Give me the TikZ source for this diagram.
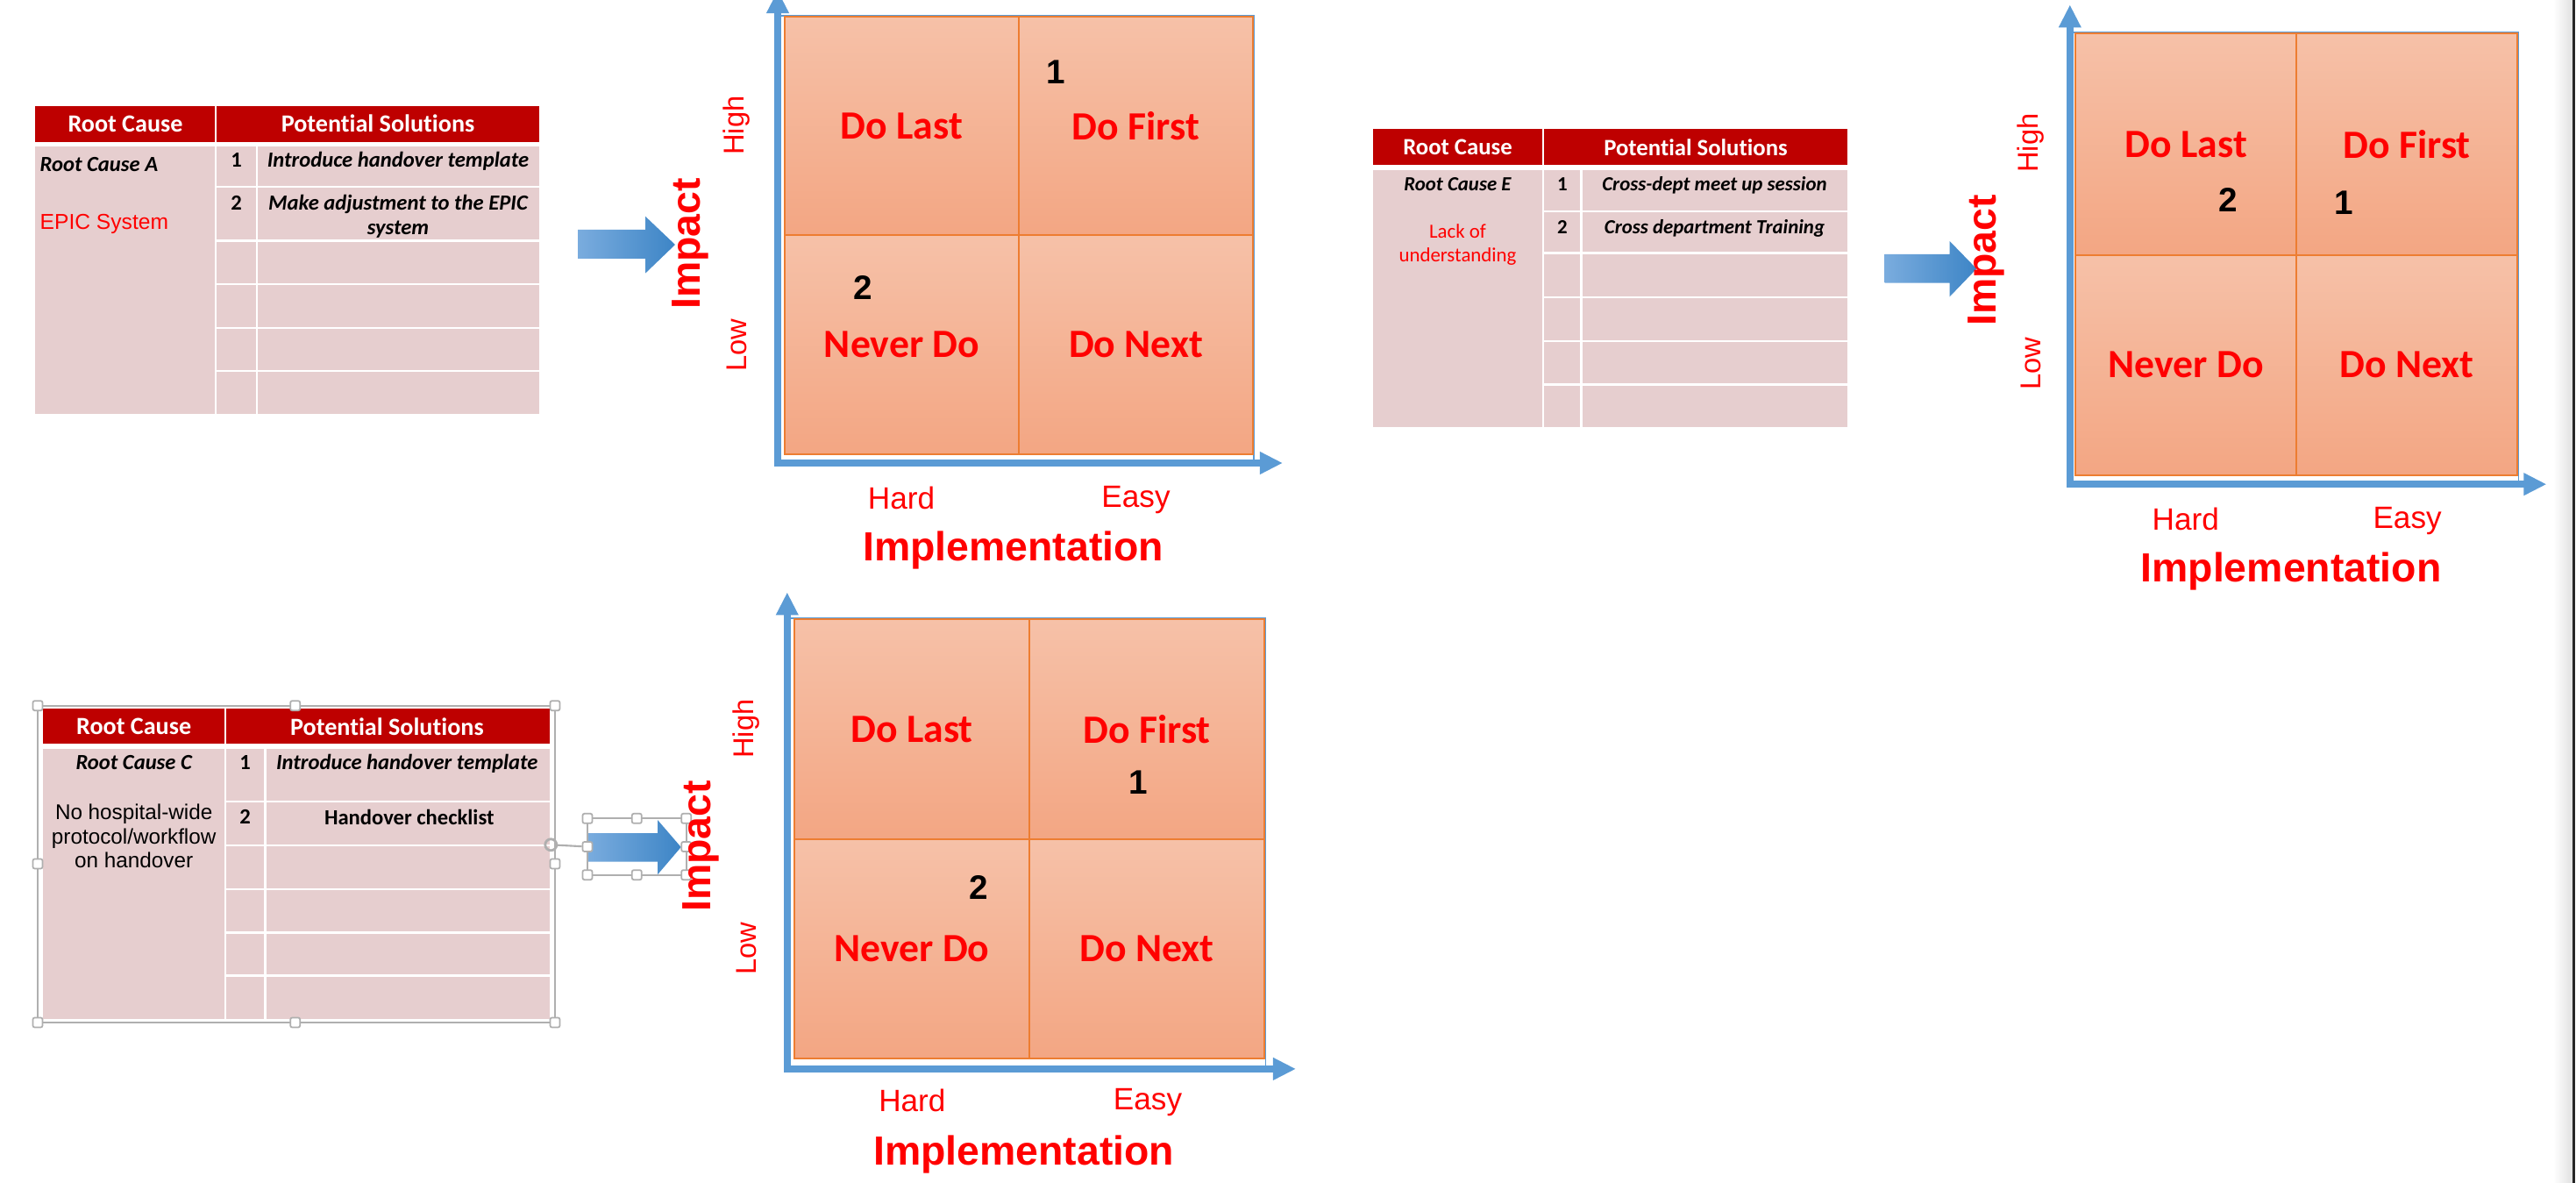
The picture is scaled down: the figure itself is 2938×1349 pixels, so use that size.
\documentclass[tikz,border=0pt]{standalone}
\usepackage{fontspec}
\setmainfont{Carlito}[Ligatures=NoCommon]
\newfontfamily\arialf{Liberation Sans}
\usetikzlibrary{arrows.meta}
\definecolor{hdred}{RGB}{190,0,0}
\definecolor{rowpink}{RGB}{230,206,207}
\definecolor{qtop}{RGB}{246,193,168}
\definecolor{qbot}{RGB}{243,166,131}
\definecolor{qline}{RGB}{237,125,49}
\definecolor{axblue}{RGB}{91,155,213}
\definecolor{arleft}{RGB}{122,172,222}
\definecolor{arright}{RGB}{61,133,198}
\definecolor{selgray}{RGB}{175,175,175}
\begin{document}
\begin{tikzpicture}[x=0.01cm,y=-0.01cm,
  sep/.style={draw=white,line width=0.7pt},
  hdtxt/.style={text=white,inner sep=0,font=\bfseries\fontsize{#1}{#1}\selectfont},
  cause/.style={inner sep=0,font=\bfseries\itshape\fontsize{#1}{#1}\selectfont},
  sol/.style={inner sep=0,align=center,font=\bfseries\itshape\fontsize{#1}{#1}\selectfont},
  num/.style={inner sep=0,font=\bfseries\fontsize{#1}{#1}\selectfont},
  quad/.style={draw=qline,line width=0.55pt,top color=qtop,bottom color=qbot,inner sep=0,
    text=red,font=\bfseries\fontsize{13}{15}\selectfont},
  frm/.style={draw=axblue,line width=0.5pt},
  axis/.style={draw=axblue,line width=2.2pt,line join=miter,
    {Triangle[width=0.24cm,length=0.26cm]}-{Triangle[width=0.24cm,length=0.26cm]}},
  lowhigh/.style={inner sep=0,text=red,font=\arialf\fontsize{9.3}{11}\selectfont},
  hardeasy/.style={inner sep=0,text=red,font=\arialf\fontsize{10}{12}\selectfont},
  bigred/.style={inner sep=0,text=red,font=\arialf\bfseries\fontsize{13.2}{15}\selectfont},
  qnum/.style={inner sep=0,font=\arialf\bfseries\fontsize{11}{13}\selectfont},
  blockarrow/.style={left color=arleft,right color=arright},
  handle/.style={draw=selgray,fill=white,line width=0.5pt,minimum size=0.11cm,inner sep=0,rounded corners=0.6pt}]
\useasboundingbox (0,0) rectangle (2938,1349);
\fill[white] (0,0) rectangle (2938,1349);
\shade[left color=white,right color=black!12] (2912,0) rectangle (2934,1349);
\fill[black!85] (2934,0) rectangle (2937.3,1349);

% table A
\fill[hdred] (39.8,120.7) rectangle (614.8,161.7);
\draw[sep] (246.2,120.7) -- (246.2,161.7);
\fill[rowpink] (39.8,166.7) rectangle (614.8,471.7);
\draw[sep] (246.2,166.7) -- (246.2,471.7) (292.8,166.7) -- (292.8,471.7);
\draw[sep] (246.2,213.2) -- (614.8,213.2) (246.2,274.5) -- (614.8,274.5) (246.2,324) -- (614.8,324)
  (246.2,373.8) -- (614.8,373.8) (246.2,423) -- (614.8,423);
\node[hdtxt=8] (rcA) at (143,141.2) {Root Cause};
\node[hdtxt=8] (psA) at (431,141.2) {Potential Solutions};
\node[cause=7,anchor=west] (caA) at (45,187.3) {Root Cause A};
\node[inner sep=0,anchor=west,text=red,font=\arialf\fontsize{7}{8}\selectfont] (epA) at (45,255.7) {EPIC System};
\node[num=7] (n1A) at (269.6,182.7) {1};
\node[sol=7] (s1A) at (454,184) {Introduce handover template};
\node[num=7] (n2A) at (269.6,231.7) {2};
\node[sol=7,align=center,font=\bfseries\itshape\fontsize{7}{8.1}\selectfont] (s2A) at (454,247) {Make adjustment to the EPIC\\system};
\shade[blockarrow] (659,262) -- (736,262) -- (736,246.7) -- (770,279) -- (736,311.7) -- (736,295) -- (659,295) -- cycle;

% matrix A
\draw[frm] (887,18) -- (1430,18) -- (1430,528);
\node[quad,minimum width=2.67cm,minimum height=2.495cm] (dlA) at (1028.5,143.75) {Do Last};
\node[quad,minimum width=2.67cm,minimum height=2.495cm] (dfA) at (1295.5,143.75) {Do First};
\node[quad,minimum width=2.67cm,minimum height=2.492cm] (ndA) at (1028.5,393.1) {Never Do};
\node[quad,minimum width=2.67cm,minimum height=2.492cm] (dnA) at (1295.5,393.1) {Do Next};
\coordinate (oA) at (887,528);
\coordinate (yA) at (887,-11);
\coordinate (xA) at (1463,528);
\draw[axis] (yA) -- (oA) -- (xA);
\node[lowhigh,rotate=90] (hiA) at (840,143) {High};
\node[lowhigh,rotate=90] (loA) at (840,393.5) {Low};
\node[bigred,rotate=90] (imA) at (787,277.8) {Impact};
\node[hardeasy] (haA) at (1028,568) {Hard};
\node[hardeasy] (eaA) at (1295.5,570) {Easy};
\node[bigred] (ipA) at (1155.6,627) {Implementation};
\node[qnum] (q1A) at (1204,82) {1};
\node[qnum] (q2A) at (984.5,328) {2};

% table E
\fill[hdred] (1565.5,147.3) rectangle (2107,188.3);
\draw[sep] (1760.2,147.3) -- (1760.2,188.3);
\fill[rowpink] (1565.5,194) rectangle (2107,486.7);
\draw[sep] (1760.2,194) -- (1760.2,486.7) (1803.5,194) -- (1803.5,486.7);
\draw[sep] (1760.2,240.8) -- (2107,240.8) (1760.2,288.5) -- (2107,288.5) (1760.2,338.8) -- (2107,338.8)
  (1760.2,389.2) -- (2107,389.2) (1760.2,438.3) -- (2107,438.3);
\node[hdtxt=7.6] (rcE) at (1662.5,167.8) {Root Cause};
\node[hdtxt=7.6] (psE) at (1934,167.8) {Potential Solutions};
\node[cause=6.5] (caE) at (1662.5,210) {Root Cause E};
\node[inner sep=0,align=center,text=red,font=\fontsize{6.5}{7.6}\selectfont] (lkE) at (1662.5,279) {Lack of\\understanding};
\node[num=6.5] (n1E) at (1782,210) {1};
\node[sol=6.5] (s1E) at (1955.5,211) {Cross-dept meet up session};
\node[num=6.5] (n2E) at (1782,259.3) {2};
\node[sol=6.5] (s2E) at (1955.5,260.3) {Cross department Training};
\shade[blockarrow] (2149.7,290) -- (2223.7,290) -- (2223.7,275) -- (2254.3,306.5) -- (2223.7,338.3) -- (2223.7,322.7) -- (2149.7,322.7) -- cycle;

% matrix E
\draw[frm] (2360.8,37) -- (2872.5,37) -- (2872.5,552);
\node[quad,minimum width=2.52cm,minimum height=2.53cm] (dlE) at (2493.2,164.5) {Do Last};
\node[quad,minimum width=2.52cm,minimum height=2.53cm] (dfE) at (2745.2,164.5) {Do First};
\node[quad,minimum width=2.52cm,minimum height=2.505cm] (ndE) at (2493.2,416.25) {Never Do};
\node[quad,minimum width=2.52cm,minimum height=2.505cm] (dnE) at (2745.2,416.25) {Do Next};
\coordinate (oE) at (2360.8,552.2);
\coordinate (yE) at (2360.8,5.4);
\coordinate (xE) at (2904.4,552.2);
\draw[axis] (yE) -- (oE) -- (xE);
\node[lowhigh,rotate=90] (hiE) at (2316.5,163) {High};
\node[lowhigh,rotate=90] (loE) at (2316.5,415) {Low};
\node[bigred,rotate=90] (imE) at (2265.7,297) {Impact};
\node[hardeasy] (haE) at (2492.8,591.5) {Hard};
\node[hardeasy] (eaE) at (2745.6,593.8) {Easy};
\node[bigred] (ipE) at (2613,651.8) {Implementation};
\node[qnum] (q2E) at (2541,227.7) {2};
\node[qnum] (q1E) at (2673,231) {1};

% table C
\fill[hdred] (48.5,808.3) rectangle (626.5,848.3);
\draw[sep] (256.9,808.3) -- (256.9,848.3);
\fill[rowpink] (48.5,854) rectangle (626.5,1161.7);
\draw[sep] (256.9,854) -- (256.9,1161.7) (302.3,854) -- (302.3,1161.7);
\draw[sep] (256.9,914) -- (626.5,914) (256.9,963.8) -- (626.5,963.8) (256.9,1013.8) -- (626.5,1013.8)
  (256.9,1063.5) -- (626.5,1063.5) (256.9,1112.5) -- (626.5,1112.5);
\node[hdtxt=8] (rcC) at (152.7,828.3) {Root Cause};
\node[hdtxt=8] (psC) at (441.4,828.3) {Potential Solutions};
\node[cause=7] (caC) at (152.7,869.3) {Root Cause C};
\node[inner sep=0,align=center,font=\arialf\fontsize{6.9}{7.8}\selectfont] (nhC) at (152.7,953.5) {No hospital-wide\\protocol/workflow\\on handover};
\node[num=7] (n1C) at (279.6,869.3) {1};
\node[sol=7] (s1C) at (464.3,870.5) {Introduce handover template};
\node[num=7] (n2C) at (279.6,931.7) {2};
\node[num=7] (s2C) at (466.8,931.7) {Handover checklist};
\draw[selgray,line width=0.6pt] (43,804.7) rectangle (633,1166);
\foreach \hx/\hy [count=\i] in {43/804.7,336.7/804.7,633/804.7,43/985,633/985,43/1166,336.7/1166,633/1166}
  \node[handle] (hC\i) at (\hx,\hy) {};
\shade[blockarrow] (670,950) -- (750,950) -- (750,935) -- (776.7,966) -- (750,997.3) -- (750,982.7) -- (670,982.7) -- cycle;
\draw[selgray,line width=0.6pt] (670,933.3) rectangle (782.7,997.7);
\foreach \hx/\hy [count=\i] in {670/933.3,726.3/933.3,782.7/933.3,670/965.5,782.7/965.5,670/997.7,726.3/997.7,782.7/997.7}
  \node[handle] (hR\i) at (\hx,\hy) {};
\node[draw=selgray,circle,line width=0.8pt,minimum size=0.13cm,inner sep=0] (rotC) at (628.3,963.3) {};
\draw[selgray,line width=0.6pt] (rotC) -- (hR4);

% matrix C
\draw[frm] (897.8,705) -- (1443.5,705) -- (1443.5,1219);
\node[quad,minimum width=2.68cm,minimum height=2.515cm] (dlC) at (1040,831.75) {Do Last};
\node[quad,minimum width=2.68cm,minimum height=2.515cm] (dfC) at (1308,831.75) {Do First};
\node[quad,minimum width=2.68cm,minimum height=2.495cm] (ndC) at (1040,1082.25) {Never Do};
\node[quad,minimum width=2.68cm,minimum height=2.495cm] (dnC) at (1308,1082.25) {Do Next};
\coordinate (oC) at (897.8,1218.9);
\coordinate (yC) at (897.8,675.4);
\coordinate (xC) at (1478,1218.9);
\draw[axis] (yC) -- (oC) -- (xC);
\node[lowhigh,rotate=90] (hiC) at (851,831) {High};
\node[lowhigh,rotate=90] (loC) at (851,1081.8) {Low};
\node[bigred,rotate=90] (imC) at (799,965) {Impact};
\node[hardeasy] (haC) at (1040.4,1255) {Hard};
\node[hardeasy] (eaC) at (1309,1256.7) {Easy};
\node[bigred] (ipC) at (1167.7,1316.8) {Implementation};
\node[qnum] (q1C) at (1298,892) {1};
\node[qnum] (q2C) at (1116,1012.4) {2};
\end{tikzpicture}
\end{document}
